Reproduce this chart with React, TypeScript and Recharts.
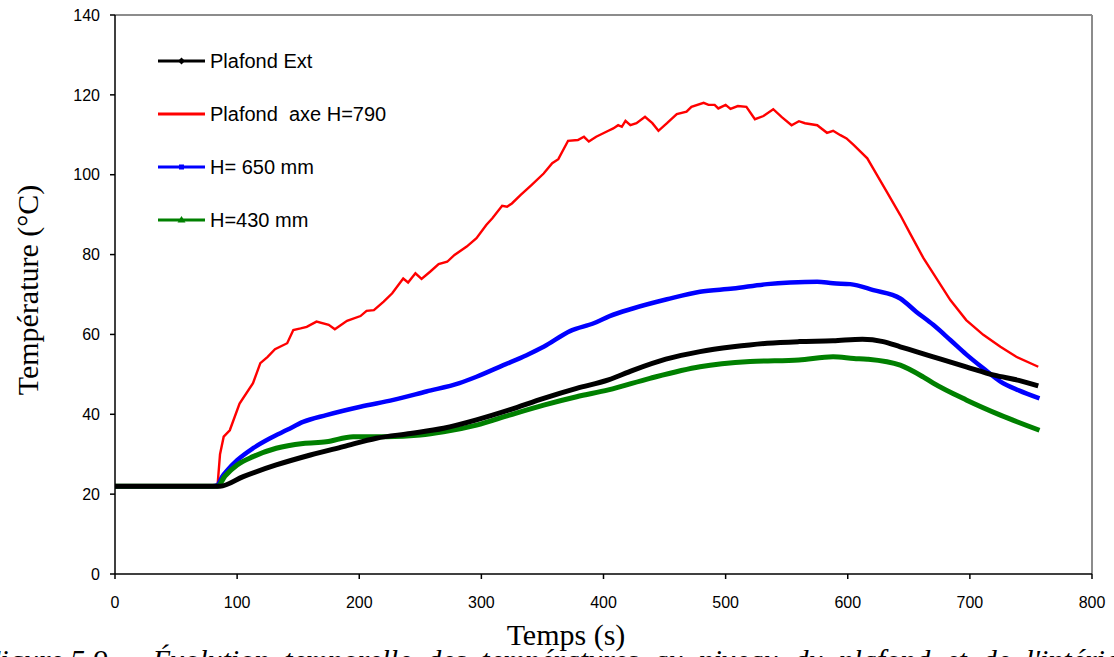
import React from "react";
import { LineChart, Line, XAxis, YAxis, ReferenceLine } from "recharts";

const xTicks = [0, 100, 200, 300, 400, 500, 600, 700, 800];
const yTicks = [0, 20, 40, 60, 80, 100, 120, 140];

const seriesNames = ["Plafond Ext", "Plafond  axe H=790", "H= 650 mm", "H=430 mm"];
const seriesColors = ["#000000", "#ff0000", "#0000ff", "#008000"];

const redTime = [0, 20, 40, 60, 80, 84, 86, 89, 94, 102, 113, 119, 125, 131, 141, 146, 152, 157, 165, 175, 180, 190, 201, 206, 212, 220, 227, 236, 240, 246, 251, 258, 265, 272, 278, 288, 296, 304, 309, 317, 321, 325, 332, 341, 351, 358, 363, 371, 379, 384, 388, 394, 404, 408, 412, 415, 418, 422, 427, 434, 440, 445, 452, 460, 468, 472, 482, 486, 491, 494, 500, 504, 510, 517, 524, 531, 539, 546, 554, 560, 565, 575, 583, 588, 594, 599, 605, 616, 624, 632, 643, 651, 662, 670, 684, 697, 711, 725, 738, 756];
const redTemp = [22, 22, 22, 22, 22, 22.3, 30, 34.4, 36, 42.7, 47.8, 52.8, 54.4, 56.3, 57.8, 61.1, 61.5, 61.9, 63.2, 62.4, 61.3, 63.4, 64.6, 65.9, 66.1, 68.2, 70.3, 74, 73, 75.3, 73.9, 75.7, 77.6, 78.2, 79.9, 82, 84.1, 87.4, 89.1, 92.2, 92, 92.8, 94.9, 97.4, 100.3, 102.9, 103.9, 108.5, 108.7, 109.5, 108.3, 109.5, 111, 111.6, 112.4, 112, 113.5, 112.4, 112.9, 114.5, 112.9, 111, 112.9, 115.2, 115.8, 117, 118, 117.5, 117.5, 116.6, 117.5, 116.5, 117.2, 117, 113.9, 114.7, 116.4, 114.4, 112.4, 113.4, 112.9, 112.4, 110.5, 111, 109.9, 109.1, 107.4, 104.1, 99.9, 95.7, 89.9, 85.3, 79.1, 75.3, 68.6, 63.6, 59.9, 56.9, 54.4, 51.9];

const blueTime = [0, 20, 40, 60, 80, 84, 88, 92, 100, 113, 127, 141, 154, 173, 201, 228, 255, 282, 296, 318, 337, 351, 373, 392, 405, 424, 452, 479, 506, 534, 553, 575, 588, 602, 621, 643, 656, 670, 684, 697, 711, 725, 740, 757];
const blueTemp = [22, 22, 22, 22, 22, 22.3, 24.5, 26, 28.5, 31.5, 34, 36.1, 38.1, 39.8, 41.9, 43.6, 45.7, 47.8, 49.4, 52.3, 54.8, 56.9, 60.9, 62.8, 64.6, 66.5, 68.8, 70.7, 71.5, 72.6, 73, 73.2, 72.8, 72.6, 71.1, 69, 65.7, 62.4, 58.6, 55, 51.5, 48.2, 46, 44];

const blackTime = [0, 20, 40, 60, 80, 86, 105, 132, 160, 187, 214, 242, 269, 296, 323, 351, 378, 404, 424, 451, 479, 506, 534, 560, 588, 612, 629, 643, 656, 670, 697, 720, 740, 756];
const blackTemp = [22, 22, 22, 22, 22, 22, 24.4, 27.3, 29.8, 31.9, 34, 35.2, 36.5, 38.6, 41.1, 44, 46.5, 48.6, 51, 53.8, 55.7, 56.9, 57.8, 58.2, 58.4, 58.8, 58.2, 56.9, 55.7, 54.4, 51.9, 49.8, 48.5, 47.1];

const greenTime = [0, 20, 40, 60, 80, 84, 90, 100, 113, 132, 154, 173, 195, 222, 250, 269, 296, 323, 351, 378, 404, 438, 479, 520, 560, 588, 605, 616, 643, 662, 670, 697, 725, 757];
const greenTemp = [22, 22, 22, 22, 22, 22, 24.5, 27.3, 29.4, 31.5, 32.7, 33.1, 34.4, 34.4, 34.8, 35.6, 37.3, 39.8, 42.3, 44.4, 46.1, 49, 51.9, 53.2, 53.6, 54.4, 54, 53.8, 52.3, 49.3, 47.8, 43.6, 39.8, 36];

const toData = (ts: number[], vs: number[]) => ts.map((t, i) => ({ t, v: vs[i] }));
const blackData = toData(blackTime, blackTemp);
const redData = toData(redTime, redTemp);
const blueData = toData(blueTime, blueTemp);
const greenData = toData(greenTime, greenTemp);

const sansFont = "'Liberation Sans', Arial, sans-serif";
const serifFont = "'Liberation Serif', 'Times New Roman', serif";

function LegendBox() {
  const rows = [61, 114, 167, 220];
  return (
    <g>
      {seriesNames.map((name, i) => {
        const y = rows[i];
        const c = seriesColors[i];
        return (
          <g key={name}>
            <line x1={158} x2={205} y1={y} y2={y} stroke={c} strokeWidth={3} />
            {i === 0 && <polygon points={`181.5,${y - 3.5} 185,${y} 181.5,${y + 3.5} 178,${y}`} fill={c} />}
            {i === 2 && <rect x={179} y={y - 2.5} width={5} height={5} fill={c} />}
            {i === 3 && <polygon points={`181.5,${y - 4} 185.5,${y + 2.5} 177.5,${y + 2.5}`} fill={c} />}
            <text x={210} y={y + 7} fontSize={20} fontFamily={sansFont} fill="#000" style={{ whiteSpace: "pre" }}>
              {name}
            </text>
          </g>
        );
      })}
    </g>
  );
}

export default function App() {
  return (
    <div style={{ position: "fixed", left: 0, top: 0, width: 1114, height: 657, overflow: "hidden", background: "#fff" }}>
      <LineChart width={1114} height={657} margin={{ top: 15, right: 22, left: 0, bottom: 0 }}>
        <XAxis
          dataKey="t"
          type="number"
          domain={[0, 800]}
          ticks={xTicks}
          height={83}
          tickSize={5}
          tickMargin={18}
          stroke="#000"
          strokeWidth={1.5}
          tick={{ fill: "#000", fontSize: 16, fontFamily: sansFont }}
          allowDuplicatedCategory={false}
        />
        <YAxis
          type="number"
          domain={[0, 140]}
          ticks={yTicks}
          width={115}
          tickSize={5}
          tickMargin={10}
          stroke="#000"
          strokeWidth={1.5}
          tick={{ fill: "#000", fontSize: 16, fontFamily: sansFont }}
        />
        <ReferenceLine y={140} stroke="#8c8c8c" strokeWidth={2} />
        <ReferenceLine x={800} stroke="#8c8c8c" strokeWidth={2} />
        <Line data={redData} dataKey="v" name={seriesNames[1]} stroke="#ff0000" strokeWidth={2.4} dot={false} isAnimationActive={false} type="linear" />
        <Line data={blueData} dataKey="v" name={seriesNames[2]} stroke="#0000ff" strokeWidth={4.5} dot={false} isAnimationActive={false} type="monotone" />
        <Line data={greenData} dataKey="v" name={seriesNames[3]} stroke="#008000" strokeWidth={5} dot={false} isAnimationActive={false} type="monotone" />
        <Line data={blackData} dataKey="v" name={seriesNames[0]} stroke="#000000" strokeWidth={5} dot={false} isAnimationActive={false} type="monotone" />
      </LineChart>
      <svg width={1114} height={657} style={{ position: "absolute", left: 0, top: 0, pointerEvents: "none" }}>
        <LegendBox />
        <text x={0} y={0} transform="translate(38,290) rotate(-90)" textAnchor="middle" fontSize={30} fontFamily={serifFont} fill="#000">
          Température (°C)
        </text>
        <text x={566} y={645} textAnchor="middle" fontSize={30} fontFamily={serifFont} fill="#000">
          Temps (s)
        </text>
        <text x={-18} y={670} fontSize={30} fontStyle="italic" fontFamily={serifFont} fill="#000" style={{ whiteSpace: "pre" }}>
          Figure 5.9  –  Évolution  temporelle  des  températures  au  niveau  du  plafond  et  de  l'intérieur
        </text>
      </svg>
    </div>
  );
}
